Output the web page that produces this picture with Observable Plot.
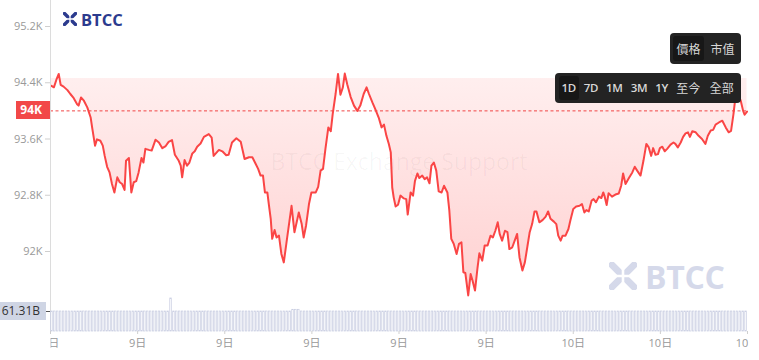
<!DOCTYPE html>
<html><head><meta charset="utf-8">
<script src="https://cdn.jsdelivr.net/npm/d3@7"></script>
<script src="https://cdn.jsdelivr.net/npm/@observablehq/plot@0.6"></script>
<style>
body{margin:0;background:#fff;font-family:"Open Sans","Noto Sans CJK TC",sans-serif;}
#wrap{position:relative;width:759px;height:360px;overflow:hidden;background:#fff;}
#wrap svg.layer{position:absolute;left:0;top:0;}
.box{position:absolute;background:#232323;border-radius:4px;}
.seg{position:absolute;background:#171717;border-radius:3px;}
.lbl{position:absolute;transform:translateX(-50%);color:#d8d8d8;font-size:12px;white-space:nowrap;}
.lbl.en{font-weight:600;font-size:11.5px;letter-spacing:-0.3px;}
.tag{position:absolute;left:0;height:18px;line-height:18px;text-align:right;font-size:12px;box-sizing:border-box;}
</style></head><body><div id="wrap"></div>
<script>
// ---- data ----
const startTime = "2025-01-09T06:00:00Z";
const endTime = "2025-01-10T06:00:00Z";
// [minutes from start, price USD]
const pricePoints = [[2,94355],[7,94335],[12,94440],[17,94525],[21,94370],[27,94345],[35,94295],[41,94240],[48,94180],[55,94095],[58,94075],[63,94190],[69,94145],[76,94050],[83,93905],[86,93765],[92,93505],[96,93595],[103,93575],[108,93505],[112,93360],[117,93205],[122,93125],[127,92960],[132,92840],[138,93055],[143,92985],[148,92960],[153,92875],[156,93290],[162,93330],[167,92840],[172,92985],[177,93000],[182,93125],[188,93330],[192,93265],[196,93460],[203,93445],[209,93435],[217,93590],[224,93550],[231,93470],[238,93500],[244,93560],[251,93585],[257,93375],[265,93290],[269,93220],[272,93055],[277,93300],[282,93220],[287,93265],[293,93395],[298,93425],[303,93490],[310,93535],[317,93630],[327,93670],[333,93620],[337,93360],[348,93445],[355,93425],[363,93370],[368,93375],[375,93550],[384,93610],[393,93560],[401,93315],[410,93340],[417,93340],[424,93245],[429,93175],[434,93080],[439,93080],[443,92840],[448,92840],[451,92675],[455,92465],[458,92180],[463,92305],[467,92200],[472,92225],[477,91965],[482,91845],[489,92200],[498,92650],[504,92275],[513,92555],[519,92390],[523,92200],[528,92370],[534,92675],[539,92840],[548,92840],[553,92920],[558,93150],[563,93175],[568,93460],[574,93765],[579,93710],[583,93955],[589,94240],[594,94525],[599,94230],[604,94335],[608,94530],[613,94380],[620,94200],[627,94075],[634,94000],[640,94075],[647,94240],[653,94335],[658,94240],[665,94120],[671,94025],[678,93905],[684,93765],[689,93805],[694,93645],[699,93530],[703,93410],[706,92910],[709,92770],[713,92640],[718,92665],[723,92795],[730,92755],[735,92745],[738,92525],[744,92840],[749,92795],[753,93005],[758,93110],[762,93045],[768,93080],[773,93030],[778,93055],[783,92970],[787,93220],[792,93265],[797,93150],[802,92855],[808,92840],[813,92935],[820,92840],[824,92580],[828,92180],[833,92110],[839,91965],[844,92110],[849,92130],[853,91705],[857,91695],[863,91375],[868,91680],[872,91585],[877,91445],[882,91755],[886,91975],[892,91870],[897,92085],[903,92085],[909,92225],[914,92200],[919,92295],[924,92415],[928,92250],[933,92155],[939,92295],[944,92275],[948,92035],[954,92060],[959,92155],[964,92250],[969,91915],[975,91730],[980,91845],[985,92060],[990,92275],[995,92390],[1000,92570],[1004,92570],[1010,92415],[1017,92450],[1023,92495],[1028,92570],[1033,92465],[1040,92425],[1045,92390],[1049,92225],[1054,92155],[1058,92225],[1064,92225],[1070,92320],[1074,92440],[1080,92605],[1086,92640],[1093,92650],[1098,92675],[1103,92555],[1107,92590],[1112,92570],[1118,92725],[1122,92745],[1127,92700],[1133,92780],[1138,92760],[1142,92840],[1145,92780],[1149,92660],[1153,92830],[1160,92780],[1167,92810],[1174,92825],[1179,92935],[1183,93110],[1188,92960],[1195,93045],[1202,93125],[1207,93205],[1212,93150],[1219,93080],[1225,93290],[1231,93530],[1236,93480],[1241,93360],[1245,93470],[1250,93375],[1255,93385],[1259,93470],[1264,93490],[1269,93425],[1274,93460],[1281,93520],[1287,93550],[1291,93530],[1296,93480],[1302,93550],[1307,93630],[1312,93680],[1317,93695],[1321,93630],[1326,93710],[1333,93695],[1339,93645],[1346,93600],[1353,93530],[1358,93645],[1364,93720],[1369,93730],[1374,93805],[1381,93835],[1388,93860],[1395,93765],[1401,93695],[1406,93715],[1411,93955],[1415,94190],[1420,94240],[1426,94145],[1431,94000],[1434,93945],[1439,93990]];
const baselinePrice = 94460;
const currentPrice = 94000;
const currentPriceLabel = "94K";
const yTicks = [92000, 92800, 93600, 94400, 95200];
const yTickLabels = ["92K", "92.8K", "93.6K", "94.4K", "95.2K"];
const volumeIntervalMinutes = 6;
// volume per 6-minute bar, billions
const volumes = [
61.31,61.31,61.31,61.31,61.31,61.31,61.31,61.31,61.31,61.31,61.31,61.31,61.31,61.31,61.31,61.31,61.31,61.31,61.31,61.31,
61.31,61.31,61.31,61.31,61.31,61.31,61.31,61.31,61.31,61.31,61.31,61.31,61.31,61.31,61.31,61.31,61.31,61.31,61.31,61.31,
61.31,101.2,61.31,61.31,61.31,61.31,61.31,61.31,61.31,61.31,61.31,61.31,61.31,61.31,61.31,61.31,61.31,61.31,61.31,61.31,
61.31,61.31,61.31,61.31,61.31,61.31,61.31,61.31,61.31,61.31,61.31,61.31,61.31,61.31,61.31,61.31,61.31,61.31,61.31,61.31,
61.31,61.31,61.31,66.5,66.5,66.5,61.31,61.31,61.31,61.31,61.31,61.31,61.31,61.31,61.31,61.31,61.31,61.31,61.31,61.31,
61.31,61.31,61.31,61.31,61.31,61.31,61.31,61.31,61.31,61.31,61.31,61.31,61.31,61.31,61.31,61.31,61.31,61.31,61.31,61.31,
61.31,61.31,61.31,61.31,61.31,61.31,61.31,61.31,61.31,61.31,61.31,61.31,61.31,61.31,61.31,61.31,61.31,61.31,61.31,61.31,
61.31,61.31,61.31,61.31,61.31,61.31,61.31,61.31,61.31,61.31,61.31,61.31,61.31,61.31,61.31,61.31,61.31,61.31,61.31,61.31,
61.31,61.31,61.31,61.31,61.31,61.31,61.31,61.31,61.31,61.31,61.31,61.31,61.31,61.31,61.31,61.31,61.31,61.31,61.31,61.31,
61.31,61.31,61.31,61.31,61.31,61.31,61.31,61.31,61.31,61.31,61.31,61.31,61.31,61.31,61.31,61.31,61.31,61.31,61.31,61.31,
61.31,61.31,61.31,61.31,61.31,61.31,61.31,61.31,61.31,61.31,61.31,61.31,61.31,61.31,61.31,61.31,61.31,61.31,61.31,61.31,
61.31,61.31,61.31,61.31,61.31,61.31,61.31,61.31,61.31,61.31,61.31,61.31,61.31,61.31,61.31,61.31,61.31,61.31,61.31,61.31];
const volumeLabelValue = 61.31;
const volumeLabel = "61.31B";
const priceTabs = ["價格", "市值"];
const rangeTabs = ["1D", "7D", "1M", "3M", "1Y", "至今", "全部"];
const watermarkText = "BTCC Exchange Support";

// ---- build ----
const W = 759, H = 360;
const t0 = new Date(startTime), t1 = new Date(endTime);
const toDate = m => new Date(t0.getTime() + m * 60000);
const points = pricePoints.map(([m, p]) => ({t: toDate(m), p}));
const bars = volumes.map((v, i) => ({a: toDate(i * volumeIntervalMinutes), b: toDate((i + 1) * volumeIntervalMinutes), v: v * 1e9}));
const font = '"Open Sans","Noto Sans CJK TC",sans-serif';
const common = {width: W, height: H, marginLeft: 50, marginRight: 12, marginTop: 0, marginBottom: 29,
  x: {type: "utc", domain: [t0, t1], axis: null},
  style: {background: "transparent", fontFamily: font, fontSize: "11px"}};

const main = Plot.plot({
  ...common,
  y: {domain: [92000, 95200], range: [251, 26], axis: null},
  marks: [
    Plot.areaY(points, {x: "t", y1: () => baselinePrice, y2: "p", fill: "url(#areaGrad)"}),
    Plot.text([watermarkText], {frameAnchor: "middle", dy: -3, fontSize: 23, fill: "#000", fillOpacity: 0.035}),
    Plot.ruleY([currentPrice], {stroke: "#f04545", strokeDasharray: "3,2.5", strokeWidth: 1}),
    Plot.line(points, {x: "t", y: "p", stroke: "#fa4545", strokeWidth: 2}),
    Plot.line(points, {x: "t", y: "p", stroke: "#159e3a", strokeWidth: 2, ariaLabel: "up-line"}),
    Plot.ruleX([t0], {stroke: "#dcdcdc"}),
    Plot.axisY({ticks: yTicks, anchor: "left", tickSize: 5, tickPadding: 3, label: null,
      tickFormat: d => yTickLabels[yTicks.indexOf(d)], color: "#999"})
  ]
});
main.classList.add("layer");
const yb = main.scale("y").apply(baselinePrice);
const ms = d3.select(main);
ms.insert("defs", ":first-child").html(
  `<linearGradient id="areaGrad" x1="0" y1="0" x2="0" y2="1">
     <stop offset="0" stop-color="#ff4d4d" stop-opacity="0.09"/>
     <stop offset="1" stop-color="#ff4d4d" stop-opacity="0.26"/>
   </linearGradient>
   <clipPath id="upClip"><rect x="0" y="0" width="${W}" height="${yb}"/></clipPath>`);
ms.select('g[aria-label="up-line"]').attr("clip-path", "url(#upClip)");
ms.selectAll('g[aria-label="y-axis tick"]').attr("stroke", "#cfcfcf");

const vol = Plot.plot({
  ...common,
  y: {domain: [0, volumeLabelValue * 1e9], range: [331, 311], axis: null},
  marks: [
    Plot.rectY(bars, {x1: "a", x2: "b", y: "v", insetLeft: 0.7, insetRight: 0.7, fill: "#ffffff", stroke: "#c6cbe0", strokeWidth: 0.7}),
    Plot.axisX({ticks: d3.utcHour.every(3).range(t0, new Date(t1.getTime() + 1)), tickFormat: d3.utcFormat("%-d日"),
      tickSize: 3, tickPadding: 5, color: "#999", label: null}),
    Plot.axisY({ticks: [volumeLabelValue * 1e9], anchor: "left", tickSize: 4, tickFormat: () => "", color: "#555", label: null})
  ]
});
vol.classList.add("layer");
const vs = d3.select(vol);
vs.insert("defs", ":first-child").html(`<clipPath id="xlabClip"><rect x="50" y="0" width="698" height="${H}"/></clipPath>`);
vs.select('g[aria-label="x-axis tick label"]').attr("clip-path", "url(#xlabClip)");
vs.selectAll('g[aria-label="x-axis tick"]').attr("stroke", "#cfcfcf");

const wrap = document.getElementById("wrap");
wrap.appendChild(main);
wrap.appendChild(vol);

// price tag
const yCur = main.scale("y").apply(currentPrice);
const tag = document.createElement("div");
tag.className = "tag";
tag.style.cssText = `left:16px;width:34px;top:${yCur - 9}px;background:#f24848;color:#fff;font-weight:700;padding-right:8px;`;
tag.textContent = currentPriceLabel;
wrap.appendChild(tag);
const vy = vol.scale("y").apply(volumeLabelValue * 1e9);
const vtag = document.createElement("div");
vtag.className = "tag";
vtag.style.cssText = `left:0;width:46px;top:${vy - 9}px;background:#cfd5e4;color:#333;padding-right:6px;`;
vtag.textContent = volumeLabel;
wrap.appendChild(vtag);

// menus
function addBox(l, t, w, h) { const d = document.createElement("div"); d.className = "box";
  d.style.cssText = `left:${l}px;top:${t}px;width:${w}px;height:${h}px;`; wrap.appendChild(d); }
function addSeg(l, t, w, h) { const d = document.createElement("div"); d.className = "seg";
  d.style.cssText = `left:${l}px;top:${t}px;width:${w}px;height:${h}px;`; wrap.appendChild(d); }
function addLbl(txt, cx, t, en) { const d = document.createElement("div"); d.className = "lbl" + (en ? " en" : "");
  d.style.cssText = `left:${cx}px;top:${t}px;`; d.textContent = txt; wrap.appendChild(d); }
addBox(670, 33, 71, 31); addSeg(673, 36, 31, 25);
const ptx = [688.5, 722.5];
priceTabs.forEach((s, i) => addLbl(s, ptx[i], 39.5, false));
addBox(555, 73, 186, 30); addSeg(559, 76, 20, 24);
const rtx = [568.7, 591, 614.3, 639, 661.7, 688.3, 721.7];
rangeTabs.forEach((s, i) => addLbl(s, rtx[i], /[A-Z]/.test(s) ? 79.5 : 79, /[A-Z]/.test(s)));

// logos
function logo(x, y, size, color, fs, textX, lsp) {
  const ns = "http://www.w3.org/2000/svg";
  const s = document.createElementNS(ns, "svg");
  s.setAttribute("width", size); s.setAttribute("height", size); s.setAttribute("viewBox", "0 0 14 14");
  s.style.cssText = `position:absolute;left:${x}px;top:${y}px;`;
  s.innerHTML = `<path d="M1.5 1.5L12.5 12.5M12.5 1.5L1.5 12.5" stroke="${color}" stroke-width="3.4" stroke-linecap="square"/>
    <path d="M7 0V14M0 7H14" stroke="#fff" stroke-width="1.3"/>`;
  wrap.appendChild(s);
  const t = document.createElement("div");
  t.textContent = "BTCC";
  t.style.cssText = `position:absolute;left:${textX}px;top:${y + size / 2 + 1}px;transform:translateY(-50%);font-family:"Open Sans",sans-serif;font-weight:700;font-size:${fs}px;color:${color};letter-spacing:${lsp}px;line-height:1;`;
  wrap.appendChild(t);
}
logo(63, 12, 14, "#2c3b8e", 16.5, 81, 0);
logo(609, 262, 28, "#d5d9ea", 32, 645, -0.3);
</script></body></html>
